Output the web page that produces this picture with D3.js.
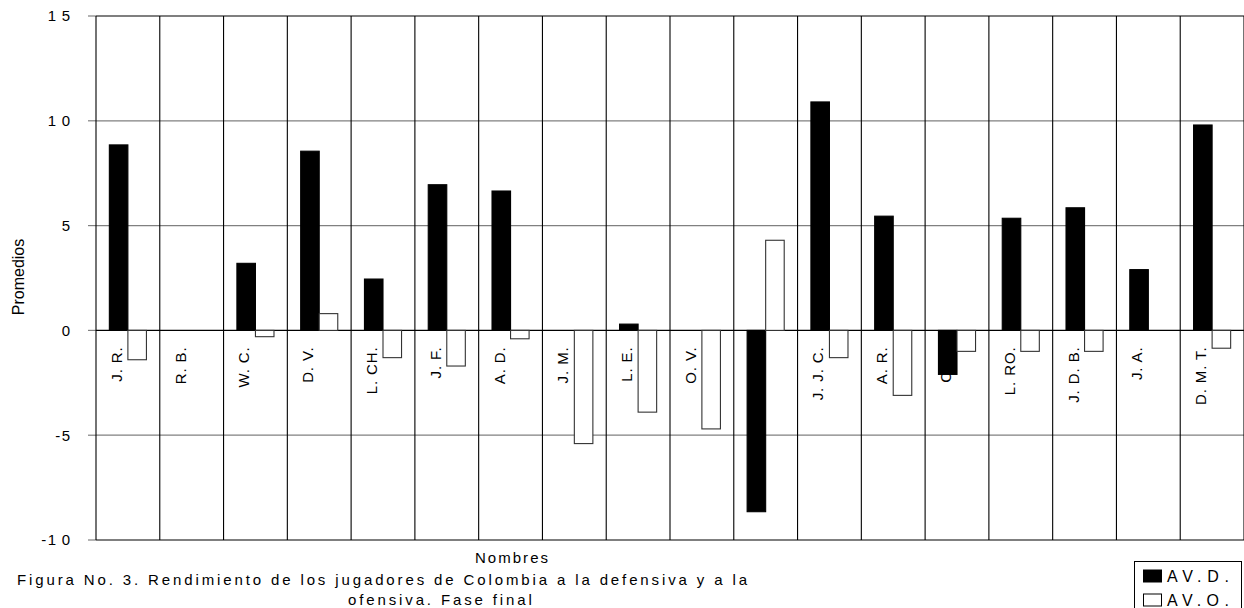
<!DOCTYPE html>
<html>
<head>
<meta charset="utf-8">
<script src="https://cdn.jsdelivr.net/npm/d3@7"></script>
<style>
  html, body { margin: 0; padding: 0; background: #fff; }
  svg { display: block; }
  text { font-family: "Liberation Sans", Arial, sans-serif; fill: #000; }
</style>
</head>
<body>
<svg id="chart" width="1244" height="608"></svg>
<script>
const categories = ["J. R.", "R. B.", "W. C.", "D. V.", "L. CH.", "J. F.", "A. D.", "J. M.", "L. E.", "O. V.", "J. C.", "J. J. C.", "A. R.", "C. V.", "L. RO.", "J. D. B.", "J. A.", "D. M. T."];
const seriesNames = ["AV.D.", "AV.O."];
const avd = [8.85, 0, 3.2, 8.55, 2.45, 6.95, 6.65, 0, 0.3, 0, -8.65, 10.9, 5.45, -2.1, 5.35, 5.85, 2.9, 9.8];
const avo = [-1.4, 0, -0.3, 0.8, -1.3, -1.7, -0.4, -5.4, -3.9, -4.7, 4.3, -1.3, -3.1, -1.0, -1.0, -1.0, 0, -0.85];
const yTicks = [15, 10, 5, 0, -5, -10];
const yTitle = "Promedios";
const xTitle = "Nombres";
const caption1 = "Figura No. 3. Rendimiento de los jugadores de Colombia a la defensiva y a la";
const caption2 = "ofensiva. Fase final";

const svg = d3.select("#chart");
const mLeft = 96, mRight = 1244, mTop = 16, mBottom = 540;

const x = d3.scaleBand().domain(categories).range([mLeft, mRight]).paddingInner(0).paddingOuter(0);
const xs = d3.scaleBand().domain(seriesNames).range([0, x.bandwidth()]).paddingInner(0).paddingOuter(0.72);
const y = d3.scaleLinear().domain([-10, 15]).range([mBottom, mTop]);

// horizontal gridlines
svg.append("g").selectAll("line").data(yTicks).join("line")
  .attr("x1", mLeft).attr("x2", mRight)
  .attr("y1", d => y(d)).attr("y2", d => y(d))
  .attr("stroke", d => (d === 15 || d === 0 || d === -10) ? "#000" : "#808080")
  .attr("stroke-width", 1.2);

// tick marks
svg.append("g").selectAll("line").data(yTicks).join("line")
  .attr("x1", 88).attr("x2", mLeft)
  .attr("y1", d => y(d)).attr("y2", d => y(d))
  .attr("stroke", "#808080").attr("stroke-width", 1.2);

// vertical lines (category boundaries)
const bounds = categories.map(c => x(c)).concat([mRight]);
svg.append("g").selectAll("line").data(bounds).join("line")
  .attr("x1", d => d).attr("x2", d => d)
  .attr("y1", mTop).attr("y2", mBottom)
  .attr("stroke", "#000").attr("stroke-width", 1.1);

// y tick labels: minus sign tight, digits spaced
const tl = svg.append("g").selectAll("text").data(yTicks).join("text")
  .attr("x", 75.5).attr("y", d => y(d)).attr("dy", "0.36em")
  .attr("text-anchor", "end")
  .style("font-size", "15px");
tl.filter(d => d < 0).append("tspan").style("letter-spacing", "1.5px").text("-");
tl.append("tspan").style("letter-spacing", "5.5px").text(d => String(Math.abs(d)));

// category labels (drawn beneath bars)
svg.append("g").selectAll("text").data(categories).join("text")
  .attr("transform", d => `translate(${x(d) + 20.5},${y(0) + 16}) rotate(-90)`)
  .attr("dy", "0.36em")
  .attr("text-anchor", "end")
  .style("font-size", "15px").style("letter-spacing", "0.9px")
  .text(d => d);

// bars
const data = [];
categories.forEach((c, i) => {
  data.push({ c, s: seriesNames[0], v: avd[i] });
  data.push({ c, s: seriesNames[1], v: avo[i] });
});
svg.append("g").selectAll("rect").data(data.filter(d => d.v !== 0)).join("rect")
  .attr("x", d => x(d.c) + xs(d.s))
  .attr("width", xs.bandwidth())
  .attr("y", d => y(Math.max(0, d.v)))
  .attr("height", d => Math.abs(y(d.v) - y(0)))
  .attr("fill", d => d.s === seriesNames[0] ? "#000" : "#fff")
  .attr("stroke", d => d.s === seriesNames[0] ? "#000" : "#333")
  .attr("stroke-width", 1.1);

// y title
svg.append("text")
  .attr("transform", `translate(18.5,277) rotate(-90)`)
  .attr("dy", "0.36em").attr("text-anchor", "middle")
  .style("font-size", "16px")
  .text(yTitle);

// x title
svg.append("text")
  .attr("x", 475).attr("y", 563)
  .attr("textLength", 73).attr("lengthAdjust", "spacing")
  .style("font-size", "15px")
  .text(xTitle);

// caption: line 1 stretched to its measured width, line 2 uses the same letter spacing
const c1 = svg.append("text")
  .attr("x", 17).attr("y", 585)
  .style("font-size", "15px")
  .text(caption1);
const nat = c1.node().getComputedTextLength();
const ls = (730 - nat) / (caption1.length - 1);
c1.style("letter-spacing", ls + "px");
svg.append("text")
  .attr("x", 348).attr("y", 605)
  .style("font-size", "15px").style("letter-spacing", ls + "px")
  .text(caption2);

// legend
const lg = svg.append("g");
lg.append("rect").attr("x", 1134.5).attr("y", 561.5).attr("width", 107).attr("height", 60)
  .attr("fill", "#fff").attr("stroke", "#000").attr("stroke-width", 1);
seriesNames.forEach((s, i) => {
  const yy = 576 + i * 24;
  lg.append("rect").attr("x", 1143.5).attr("y", yy - 6).attr("width", 18).attr("height", 12)
    .attr("fill", i === 0 ? "#000" : "#fff").attr("stroke", "#000").attr("stroke-width", 1);
  lg.append("text").attr("x", 1167).attr("y", yy).attr("dy", "0.36em")
    .attr("textLength", 62).attr("lengthAdjust", "spacing")
    .style("font-size", "16px")
    .text(s);
});
</script>
</body>
</html>
